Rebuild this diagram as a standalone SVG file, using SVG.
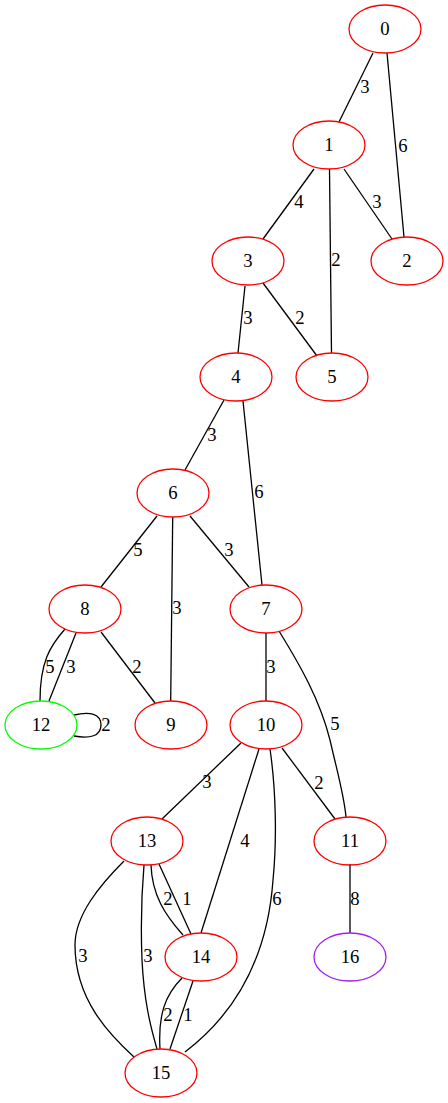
<svg xmlns="http://www.w3.org/2000/svg" width="448" height="1103" viewBox="0 0 448 1103">
  <style>
    .node ellipse { fill: none; stroke-width: 1.3; }
    .red ellipse { stroke: #ff0000; }
    .green ellipse { stroke: #00ff00; }
    .purple ellipse { stroke: #a020f0; }
    text { font-family: "Liberation Serif", "Times New Roman", serif; font-size: 18.67px; fill: #000; text-anchor: middle; }
    .edges path { fill: none; stroke: #000; stroke-width: 1.3; }
  </style>
  <rect width="448" height="1103" fill="#fff"/>

  <g id="edges" class="edges">
    <!-- 0-1 -->
    <path d="M373,53 L339,122"/><text x="365" y="93">3</text>
    <!-- 0-2 -->
    <path d="M387,53 L404,237"/><text x="403" y="152">6</text>
    <!-- 1-3 -->
    <path d="M314,169 L263,239"/><text x="299" y="208">4</text>
    <!-- 1-2 -->
    <path d="M344,169 L392,239"/><text x="377" y="208">3</text>
    <!-- 1-5 -->
    <path d="M329.5,169 L331.5,353"/><text x="336" y="266">2</text>
    <!-- 3-4 -->
    <path d="M245,286 L238,353"/><text x="248" y="324">3</text>
    <!-- 3-5 -->
    <path d="M263,283 L317,356"/><text x="300" y="324">2</text>
    <!-- 4-6 -->
    <path d="M224,400 L185,470"/><text x="212" y="441">3</text>
    <!-- 4-7 -->
    <path d="M243,401 L262,585"/><text x="259" y="498">6</text>
    <!-- 6-8 -->
    <path d="M157,516 L101,587"/><text x="138" y="556">5</text>
    <!-- 6-9 -->
    <path d="M172.7,517 L170.7,701"/><text x="177" y="614">3</text>
    <!-- 6-7 -->
    <path d="M190,516 L249,587"/><text x="229" y="556">3</text>
    <!-- 8-12 (5) -->
    <path d="M65,629 C50,646 40,662 40,701"/><text x="50" y="673">5</text>
    <!-- 8-12 (3) -->
    <path d="M76,633 L49,701"/><text x="71" y="673">3</text>
    <!-- 8-9 -->
    <path d="M101,632 L155,703"/><text x="137" y="673">2</text>
    <!-- 12 self-loop -->
    <path d="M74,715 C90,711 101,714 101,725 C101,736 90,739 74,736"/><text x="106" y="731">2</text>
    <!-- 7-10 -->
    <path d="M266,633 L266,701"/><text x="271" y="673">3</text>
    <!-- 7-11 -->
    <path d="M279,631 C300,665 320,700 330,740 C338,775 344,795 346,817"/><text x="335" y="730">5</text>
    <!-- 10-13 -->
    <path d="M241,743 L162,819"/><text x="207" y="788">3</text>
    <!-- 10-14 -->
    <path d="M259,749 L201,933"/><text x="245" y="847">4</text>
    <!-- 10-15 -->
    <path d="M270,749 C276,790 277,840 273,880 C268,950 240,1010 185,1052"/><text x="277" y="905">6</text>
    <!-- 10-11 -->
    <path d="M282,748 L335,819"/><text x="319" y="789">2</text>
    <!-- 11-16 -->
    <path d="M350,864 L350,933"/><text x="355" y="905">8</text>
    <!-- 13-15 (3) -->
    <path d="M124,861 C100,885 75,915 75,945 C75,1000 110,1035 134,1057"/><text x="83" y="962">3</text>
    <!-- 13-15 (3) -->
    <path d="M144,865 C141,900 141,935 142,960 C144,1000 150,1025 157,1049"/><text x="148" y="962">3</text>
    <!-- 13-14 (2) -->
    <path d="M151,865 C152,895 165,915 183,935"/><text x="168" y="905">2</text>
    <!-- 13-14 (1) -->
    <path d="M159,864 L191,934"/><text x="187" y="905">1</text>
    <!-- 14-15 (2) -->
    <path d="M182,978 C165,995 158,1015 160,1049"/><text x="168" y="1021">2</text>
    <!-- 14-15 (1) -->
    <path d="M193,981 L170,1049"/><text x="188" y="1021">1</text>
  </g>

  <g id="node0" class="node red"><ellipse cx="385" cy="29" rx="36" ry="24"/><text x="385" y="35">0</text></g>
  <g id="node1" class="node red"><ellipse cx="329" cy="145" rx="36" ry="24"/><text x="329" y="151">1</text></g>
  <g id="node2" class="node red"><ellipse cx="407" cy="261" rx="36" ry="24"/><text x="407" y="267">2</text></g>
  <g id="node3" class="node red"><ellipse cx="248" cy="261" rx="36" ry="24"/><text x="248" y="267">3</text></g>
  <g id="node4" class="node red"><ellipse cx="236" cy="377" rx="36" ry="24"/><text x="236" y="383">4</text></g>
  <g id="node5" class="node red"><ellipse cx="332" cy="377" rx="36" ry="24"/><text x="332" y="383">5</text></g>
  <g id="node6" class="node red"><ellipse cx="173" cy="493" rx="36" ry="24"/><text x="173" y="499">6</text></g>
  <g id="node7" class="node red"><ellipse cx="266" cy="609" rx="36" ry="24"/><text x="266" y="615">7</text></g>
  <g id="node8" class="node red"><ellipse cx="85" cy="609" rx="36" ry="24"/><text x="85" y="615">8</text></g>
  <g id="node9" class="node red"><ellipse cx="171" cy="725" rx="36" ry="24"/><text x="171" y="731">9</text></g>
  <g id="node10" class="node red"><ellipse cx="266" cy="725" rx="36" ry="24"/><text x="266" y="731">10</text></g>
  <g id="node11" class="node red"><ellipse cx="350" cy="841" rx="36" ry="24"/><text x="350" y="847">11</text></g>
  <g id="node12" class="node green"><ellipse cx="41" cy="725" rx="36" ry="24"/><text x="41" y="731">12</text></g>
  <g id="node13" class="node red"><ellipse cx="147" cy="841" rx="36" ry="24"/><text x="147" y="847">13</text></g>
  <g id="node14" class="node red"><ellipse cx="201" cy="957" rx="36" ry="24"/><text x="201" y="963">14</text></g>
  <g id="node15" class="node red"><ellipse cx="161" cy="1073" rx="36" ry="24"/><text x="161" y="1079">15</text></g>
  <g id="node16" class="node purple"><ellipse cx="350" cy="957" rx="36" ry="24"/><text x="350" y="963">16</text></g>
</svg>
